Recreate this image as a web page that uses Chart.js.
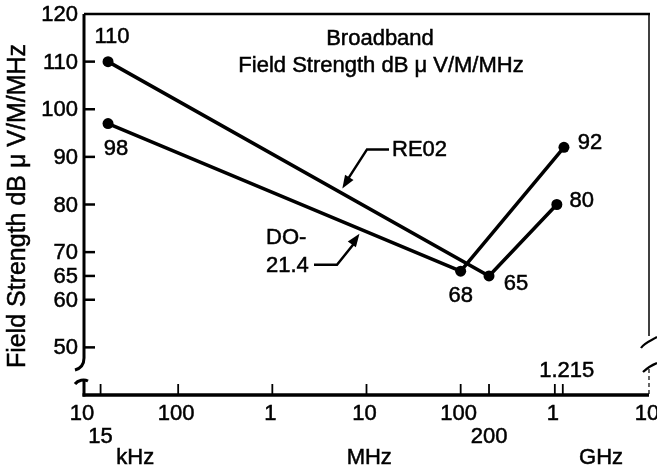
<!DOCTYPE html>
<html>
<head>
<meta charset="utf-8">
<script src="https://cdn.jsdelivr.net/npm/chart.js@4"></script>
<style>
  html, body { margin: 0; padding: 0; background: #fff; }
  canvas { display: block; }
</style>
</head>
<body>
<canvas id="grafico" width="657" height="467"></canvas>
<script>
// frequencies in Hz, levels in dB uV/M/MHz
const xTickValues = [1e4, 1e5, 1e6, 1e7, 1e8, 1e9, 1e10];
const xTickLabels = ['10', '100', '1', '10', '100', '1', '10'];
const xMinorValues = [1.5e4, 2e8, 1.215e9];
const xMinorLabels = ['15', '200', '1.215'];
const unitLabels = ['kHz', 'MHz', 'GHz'];
const yTickValues = [50, 60, 65, 70, 80, 90, 100, 110, 120];

const re02Freq = [1.8e4, 2e8, 1.05e9];
const re02Level = [110, 65, 80];
const re02Labels = ['110', '65', '80'];

const do214Freq = [1.8e4, 1e8, 1.25e9];
const do214Level = [97, 66, 92];
const do214Labels = ['98', '68', '92'];

const titleLines = ['Broadband', 'Field Strength dB \u03bc V/M/MHz'];
const yTitle = 'Field Strength dB \u03bc V/M/MHz';

const FONT = '22px "Liberation Sans", Arial, Helvetica, sans-serif';

function txt(ctx, s, x, y, align) {
    ctx.textAlign = align || 'center';
    ctx.strokeText(s, x, y);
    ctx.fillText(s, x, y);
}

function arrow(ctx, fx, fy, tx, ty) {
    const a = Math.atan2(ty - fy, tx - fx);
    const len = 13, w = 5;
    ctx.beginPath();
    ctx.moveTo(tx, ty);
    ctx.lineTo(tx - len * Math.cos(a) + w * Math.sin(a), ty - len * Math.sin(a) - w * Math.cos(a));
    ctx.lineTo(tx - len * Math.cos(a) - w * Math.sin(a), ty - len * Math.sin(a) + w * Math.cos(a));
    ctx.closePath();
    ctx.fill();
}

const ejes = {
    id: 'ejes',
    afterDraw(chart) {
        const ctx = chart.ctx;
        const xs = chart.scales.x, ys = chart.scales.y;
        const a = chart.chartArea;
        ctx.save();
        ctx.strokeStyle = '#000';
        ctx.fillStyle = '#000';
        ctx.lineCap = 'butt';

        // top border
        ctx.lineWidth = 2.5;
        ctx.beginPath();
        ctx.moveTo(a.left, a.top);
        ctx.lineTo(a.right + 1, a.top);
        ctx.stroke();

        // right border (thin, with break)
        ctx.lineWidth = 1.5;
        ctx.beginPath();
        ctx.moveTo(a.right, a.top);
        ctx.lineTo(a.right, 336);
        ctx.stroke();
        ctx.lineWidth = 2.2;
        ctx.beginPath();
        ctx.moveTo(641, 348);
        ctx.bezierCurveTo(644, 343, 650, 341, 657, 337);
        ctx.stroke();
        ctx.beginPath();
        ctx.moveTo(643, 372);
        ctx.bezierCurveTo(647, 368, 652, 365, 657, 363);
        ctx.stroke();
        ctx.setLineDash([4, 3]);
        ctx.lineWidth = 1.2;
        ctx.beginPath();
        ctx.moveTo(a.right, 369);
        ctx.lineTo(a.right, a.bottom);
        ctx.stroke();
        ctx.setLineDash([]);

        // left axis with break
        ctx.lineWidth = 3;
        ctx.beginPath();
        ctx.moveTo(a.left, a.top);
        ctx.lineTo(a.left, 358);
        ctx.bezierCurveTo(a.left, 364, a.left - 2, 368, a.left - 9, 370);
        ctx.stroke();
        ctx.beginPath();
        ctx.moveTo(a.left - 9, 384);
        ctx.bezierCurveTo(a.left - 6, 380, a.left, 379, a.left + 4, 381);
        ctx.stroke();
        ctx.beginPath();
        ctx.moveTo(a.left, 380);
        ctx.lineTo(a.left, a.bottom + 1.5);
        ctx.stroke();

        // bottom axis
        ctx.lineWidth = 3.5;
        ctx.beginPath();
        ctx.moveTo(a.left - 1.5, a.bottom);
        ctx.lineTo(a.right, a.bottom);
        ctx.stroke();

        ctx.font = FONT;
        ctx.textBaseline = 'middle';
        ctx.lineWidth = 2.5;

        // y ticks
        yTickValues.forEach(v => {
            const y = ys.getPixelForValue(v);
            if (v < 120) {
                ctx.beginPath();
                ctx.moveTo(a.left, y);
                ctx.lineTo(a.left + 11, y);
                ctx.stroke();
            }
        });

        // x ticks
        ctx.lineWidth = 1.8;
        xTickValues.concat(xMinorValues).forEach(v => {
            const x = xs.getPixelForValue(v);
            if (v === 1e4 || v === 1e10) return;
            ctx.beginPath();
            ctx.moveTo(x, a.bottom);
            ctx.lineTo(x, a.bottom - 11);
            ctx.stroke();
        });

        // text from here on, with a thin outline to thicken it
        ctx.lineWidth = 0.5;
        yTickValues.forEach(v => {
            txt(ctx, String(v), a.left - 6, ys.getPixelForValue(v) + 1, 'right');
        });
        xTickValues.forEach((v, i) => {
            txt(ctx, xTickLabels[i], xs.getPixelForValue(v) - 2, a.bottom + 19);
        });
        txt(ctx, xMinorLabels[0], xs.getPixelForValue(xMinorValues[0]), a.bottom + 42);
        txt(ctx, xMinorLabels[1], xs.getPixelForValue(xMinorValues[1]), a.bottom + 42);
        txt(ctx, xMinorLabels[2], xs.getPixelForValue(xMinorValues[2]) + 4, a.bottom - 24);
        const unitPos = [3.5e4, 1.07e7, 3.1e9];
        unitLabels.forEach((u, i) => txt(ctx, u, xs.getPixelForValue(unitPos[i]), a.bottom + 63));

        // point labels
        const re02Off = [[4, -25], [27, 8], [25, -4]];
        const doOff = [[8, 25], [0, 25], [26, -4]];
        re02Labels.forEach((s, i) => txt(ctx, s, xs.getPixelForValue(re02Freq[i]) + re02Off[i][0], ys.getPixelForValue(re02Level[i]) + re02Off[i][1]));
        do214Labels.forEach((s, i) => txt(ctx, s, xs.getPixelForValue(do214Freq[i]) + doOff[i][0], ys.getPixelForValue(do214Level[i]) + doOff[i][1]));

        // RE02 callout
        const r0x = xs.getPixelForValue(re02Freq[0]), r0y = ys.getPixelForValue(re02Level[0]);
        const r1x = xs.getPixelForValue(re02Freq[1]), r1y = ys.getPixelForValue(re02Level[1]);
        const rt = 0.615;
        const rtx = r0x + (r1x - r0x) * rt, rty = r0y + (r1y - r0y) * rt - 5;
        ctx.lineWidth = 2.5;
        ctx.beginPath();
        ctx.moveTo(389, rty - 39);
        ctx.lineTo(367, rty - 39);
        ctx.lineTo(rtx + 6, rty - 10);
        ctx.stroke();
        arrow(ctx, 367, rty - 39, rtx, rty);
        ctx.lineWidth = 0.5;
        txt(ctx, 'RE02', 392, rty - 38, 'left');

        // DO-21.4 callout
        const d0x = xs.getPixelForValue(do214Freq[0]), d0y = ys.getPixelForValue(do214Level[0]);
        const d1x = xs.getPixelForValue(do214Freq[1]), d1y = ys.getPixelForValue(do214Level[1]);
        const dt = 0.713;
        const dtx = d0x + (d1x - d0x) * dt, dty = d0y + (d1y - d0y) * dt + 5;
        ctx.lineWidth = 2.5;
        ctx.beginPath();
        ctx.moveTo(314, dty + 31);
        ctx.lineTo(337, dty + 31);
        ctx.lineTo(dtx - 4, dty + 8);
        ctx.stroke();
        arrow(ctx, 337, dty + 31, dtx, dty);
        ctx.lineWidth = 0.5;
        txt(ctx, 'DO-', 266, dty + 4, 'left');
        txt(ctx, '21.4', 266, dty + 32, 'left');

        // title
        txt(ctx, titleLines[0], 380, 39);
        txt(ctx, titleLines[1], 381, 66);

        // y title
        ctx.save();
        ctx.font = '25px "Liberation Sans", Arial, Helvetica, sans-serif';
        ctx.translate(18, 206);
        ctx.rotate(-Math.PI / 2);
        txt(ctx, yTitle, 0, 0);
        ctx.restore();

        ctx.restore();
    }
};

const ctx = document.getElementById('grafico').getContext('2d');
new Chart(ctx, {
    type: 'line',
    data: {
        datasets: [{
            label: 'RE02',
            data: re02Freq.map((f, i) => ({ x: f, y: re02Level[i] })),
            borderColor: '#000',
            backgroundColor: '#000',
            borderWidth: 3.5,
            pointRadius: 5.5,
            pointBackgroundColor: '#000',
            pointBorderWidth: 0,
            tension: 0
        }, {
            label: 'DO-21.4',
            data: do214Freq.map((f, i) => ({ x: f, y: do214Level[i] })),
            borderColor: '#000',
            backgroundColor: '#000',
            borderWidth: 3.5,
            pointRadius: 5.5,
            pointBackgroundColor: '#000',
            pointBorderWidth: 0,
            tension: 0
        }]
    },
    options: {
        responsive: false,
        animation: false,
        devicePixelRatio: 1,
        layout: {
            padding: { left: 84, top: 14, right: 8, bottom: 72 }
        },
        scales: {
            x: { type: 'logarithmic', min: 1e4, max: 1e10, display: false },
            y: { type: 'linear', min: 40, max: 120, display: false }
        },
        plugins: {
            legend: { display: false },
            tooltip: { enabled: false }
        }
    },
    plugins: [ejes]
});
</script>
</body>
</html>
